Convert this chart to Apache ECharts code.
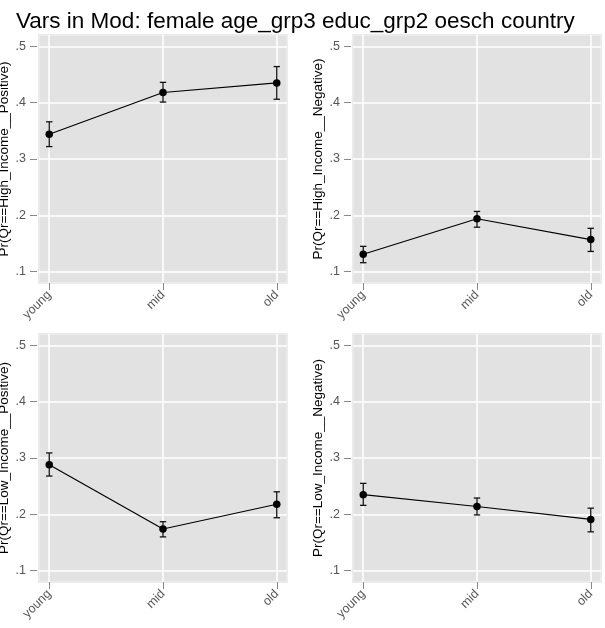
<!DOCTYPE html>
<html>
<head>
<meta charset="utf-8">
<script src="https://cdn.jsdelivr.net/npm/echarts@6/dist/echarts.min.js"></script>
<style>
  html, body { margin: 0; padding: 0; background: #fff; }
  #main { width: 605px; height: 628px; }
</style>
</head>
<body>
<div id="main"></div>
<script>
// categories and tick values
const ageGroups = ['young', 'mid', 'old'];
const xPos = [1, 2, 3];
const yTicks = [0.1, 0.2, 0.3, 0.4, 0.5];

// one entry per panel: outcome name, predicted probability, CI low, CI high
const panelNames = [
  'Pr(Qr==High_Income__Positive)',
  'Pr(Qr==High_Income__Negative)',
  'Pr(Qr==Low_Income__Positive)',
  'Pr(Qr==Low_Income__Negative)'
];
const highPos = [0.344, 0.418, 0.435];
const highPosLo = [0.322, 0.401, 0.406];
const highPosHi = [0.366, 0.436, 0.464];

const highNeg = [0.131, 0.194, 0.157];
const highNegLo = [0.116, 0.179, 0.136];
const highNegHi = [0.145, 0.207, 0.177];

const lowPos = [0.288, 0.174, 0.218];
const lowPosLo = [0.268, 0.160, 0.194];
const lowPosHi = [0.309, 0.187, 0.240];

const lowNeg = [0.235, 0.214, 0.191];
const lowNegLo = [0.216, 0.199, 0.169];
const lowNegHi = [0.255, 0.229, 0.211];

const est = [highPos, highNeg, lowPos, lowNeg];
const lo = [highPosLo, highNegLo, lowPosLo, lowNegLo];
const hi = [highPosHi, highNegHi, lowPosHi, lowNegHi];

const chart = echarts.init(document.getElementById('main'));

const cells = [
  { left: 39, top: 35 },
  { left: 353, top: 35 },
  { left: 39, top: 334 },
  { left: 353, top: 334 }
];

const grids = [], xAxes = [], yAxes = [], series = [];

cells.forEach((c, i) => {
  grids.push({
    left: c.left, top: c.top, width: 248, height: 248,
    outerBoundsMode: 'none', containLabel: false,
    show: true, backgroundColor: '#e2e2e2',
    borderColor: '#ebebeb', borderWidth: 2
  });
  xAxes.push({
    type: 'value', gridIndex: i, min: 0.91, max: 3.09,
    axisLine: { show: false },
    axisTick: { show: true, length: 7, customValues: xPos, lineStyle: { color: '#888', width: 1 } },
    axisLabel: {
      customValues: xPos, rotate: 45, margin: 10,
      color: '#555', fontSize: 12.5, fontFamily: 'Liberation Sans',
      formatter: v => ageGroups[Math.round(v) - 1]
    },
    splitLine: { show: true, lineStyle: { color: '#fff', width: 1.5 } }
  });
  yAxes.push({
    type: 'value', gridIndex: i, min: 0.08, max: 0.52,
    offset: 2,
    name: panelNames[i], nameLocation: 'middle', nameGap: 26, nameRotate: 90,
    nameTextStyle: { color: '#000', fontSize: 13.5, fontFamily: 'Liberation Sans' },
    axisLine: { show: false },
    axisTick: { show: true, length: 7, customValues: yTicks, lineStyle: { color: '#888', width: 1 } },
    axisLabel: {
      customValues: yTicks, margin: 11,
      color: '#555', fontSize: 12.5, fontFamily: 'Liberation Sans',
      formatter: v => String(Math.round(v * 10) / 10).replace(/^0/, '')
    },
    splitLine: { show: true, lineStyle: { color: '#fff', width: 1.5 } }
  });

  // error bars with caps
  series.push({
    type: 'custom', xAxisIndex: i, yAxisIndex: i,
    data: xPos.map((x, k) => [x, lo[i][k], hi[i][k]]),
    renderItem: (params, api) => {
      const top = api.coord([api.value(0), api.value(2)]);
      const bot = api.coord([api.value(0), api.value(1)]);
      const w = 3.2;
      const style = { stroke: '#111', lineWidth: 1.3 };
      return {
        type: 'group',
        children: [
          { type: 'line', shape: { x1: top[0], y1: top[1], x2: bot[0], y2: bot[1] }, style },
          { type: 'line', shape: { x1: top[0] - w, y1: top[1], x2: top[0] + w, y2: top[1] }, style },
          { type: 'line', shape: { x1: bot[0] - w, y1: bot[1], x2: bot[0] + w, y2: bot[1] }, style }
        ]
      };
    },
    z: 2
  });
  series.push({
    type: 'line', xAxisIndex: i, yAxisIndex: i,
    data: xPos.map((x, k) => [x, est[i][k]]),
    symbol: 'circle', symbolSize: 7.5,
    itemStyle: { color: '#000' },
    lineStyle: { color: '#000', width: 1.2 },
    animation: false, z: 3
  });
});

chart.setOption({
  animation: false,
  title: {
    text: 'Vars in Mod: female age_grp3 educ_grp2 oesch country',
    left: 11, top: 5,
    textStyle: { color: '#000', fontSize: 22.5, fontWeight: 'normal', fontFamily: 'Liberation Sans' }
  },
  grid: grids,
  xAxis: xAxes,
  yAxis: yAxes,
  series: series
});
</script>
</body>
</html>
